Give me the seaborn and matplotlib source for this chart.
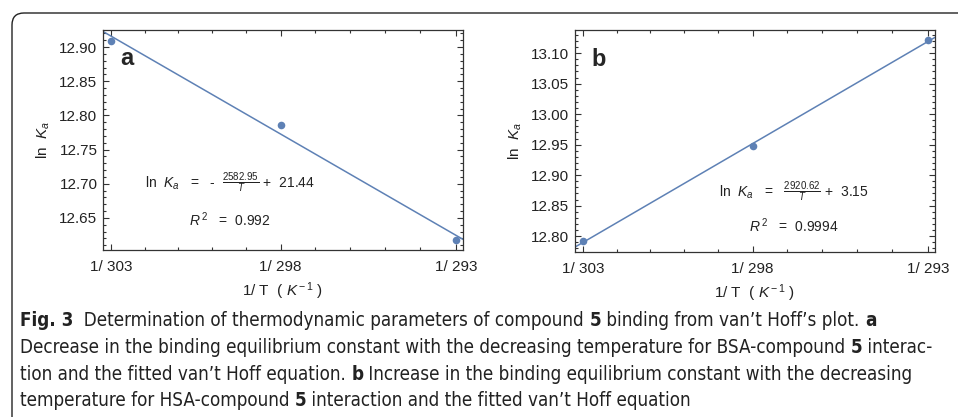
import numpy as np
import matplotlib
matplotlib.use("Agg")
import matplotlib.pyplot as plt
import matplotlib.font_manager as fm
from matplotlib.patches import FancyBboxPatch
from matplotlib.transforms import IdentityTransform
from matplotlib.ticker import FixedLocator, FormatStrFormatter
import seaborn as sns

# data
temps = [303, 298, 293]
lnKa_bsa = [12.909, 12.786, 12.618]
lnKa_hsa = [12.792, 12.948, 13.121]
minor_temps = [302, 301, 300, 299, 297, 296, 295, 294]
tick_labels = ["1/ 303", "1/ 298", "1/ 293"]

eq_bsa = r"ln  $K_a$   =   -  $\frac{2582.95}{T}$ +  21.44"
r2_bsa = r"$R^{\,2}$   =  0.992"
eq_hsa = r"ln  $K_a$   =   $\frac{2920.62}{T}$ +  3.15"
r2_hsa = r"$R^{\,2}$   =  0.9994"

# caption lines as (text, bold) pieces
caption = [
    [("Fig. 3", True), ("  Determination of thermodynamic parameters of compound ", False), ("5", True),
     (" binding from van’t Hoff’s plot. ", False), ("a", True)],
    [("Decrease in the binding equilibrium constant with the decreasing temperature for BSA-compound ", False),
     ("5", True), (" interac-", False)],
    [("tion and the fitted van’t Hoff equation. ", False), ("b", True),
     (" Increase in the binding equilibrium constant with the decreasing", False)],
    [("temperature for HSA-compound ", False), ("5", True), (" interaction and the fitted van’t Hoff equation", False)],
]

sns.set_theme(style="ticks")
plt.rcParams["font.family"] = ["Liberation Sans", "DejaVu Sans"]
plt.rcParams["mathtext.fontset"] = "custom"
plt.rcParams["mathtext.rm"] = "Liberation Sans"
plt.rcParams["mathtext.it"] = "Liberation Sans:italic"
plt.rcParams["mathtext.bf"] = "Liberation Sans:bold"

# look for a narrow / condensed face for the caption
def pick_font(bold):
    best = None
    for f in fm.fontManager.ttflist:
        narrow = ("Narrow" in f.name or "Condensed" in f.name
                  or f.stretch in ("condensed", "semi-condensed"))
        if not narrow or f.style != "normal":
            continue
        w = f.weight if isinstance(f.weight, int) else (700 if "bold" in str(f.weight) else 400)
        if (w >= 600) == bold:
            best = f.fname
            if ("Liberation" in f.name) or ("DejaVu" in f.name):
                break
    if best is None:
        return fm.FontProperties(family="Liberation Sans", weight="bold" if bold else "normal")
    return fm.FontProperties(fname=best)

cap_reg = pick_font(False)
cap_bold = pick_font(True)

blue = "#5E81B5"
frame_col = "#333333"
txt_col = "#222222"

fig = plt.figure(figsize=(9.58, 4.17), dpi=100)
fig.patch.set_facecolor("white")

inv_T = 1.0 / np.array(temps, dtype=float)
xlim = (1 / 303.25, 1 / 292.8)

panels = [
    ([103 / 958, 167 / 417, 360 / 958, 220 / 417], lnKa_bsa, (12.603, 12.925),
     np.arange(12.65, 12.91, 0.05), "a", eq_bsa, r2_bsa, (0.353, 0.306), (0.353, 0.136)),
    ([575 / 958, 165 / 417, 360 / 958, 222 / 417], lnKa_hsa, (12.774, 13.138),
     np.arange(12.80, 13.11, 0.05), "b", eq_hsa, r2_hsa, (0.607, 0.272), (0.607, 0.117)),
]

for rect, vals, ylim, yticks, letter, eq, r2, eq_pos, r2_pos in panels:
    ax = fig.add_axes(rect)
    ax.set_xlim(*xlim)
    ax.set_ylim(*ylim)
    sns.regplot(x=inv_T, y=vals, ax=ax, ci=None, truncate=False, color=blue,
                scatter_kws={"s": 30, "alpha": 1, "linewidths": 0},
                line_kws={"lw": 1.1})
    ax.set_xlim(*xlim)
    ax.set_ylim(*ylim)

    ax.xaxis.set_major_locator(FixedLocator(inv_T))
    ax.set_xticklabels(tick_labels)
    ax.xaxis.set_minor_locator(FixedLocator(1.0 / np.array(minor_temps, dtype=float)))
    ax.yaxis.set_major_locator(FixedLocator(yticks))
    ax.yaxis.set_minor_locator(FixedLocator(np.arange(ylim[0] - 0.01, ylim[1] + 0.01, 0.01).round(2)))
    ax.yaxis.set_major_formatter(FormatStrFormatter("%.2f"))

    ax.tick_params(which="both", direction="in", top=True, right=True,
                   color=frame_col, width=0.8)
    ax.tick_params(which="major", length=4, labelsize=11, labelcolor=txt_col)
    ax.tick_params(which="minor", length=2)
    ax.tick_params(axis="x", which="major", pad=7)
    ax.tick_params(axis="y", which="major", pad=4)
    for sp in ax.spines.values():
        sp.set_color(frame_col)
        sp.set_linewidth(0.9)

    ax.set_xlabel(r"1/ T  ( $K^{\,\mathrm{-\,1}}$ )", fontsize=11, color=txt_col, labelpad=5)
    ax.set_ylabel(r"ln  $K_a$", fontsize=11, color=txt_col, labelpad=5)

    ax.text(0.047, 0.84, letter, transform=ax.transAxes, fontsize=17,
            fontweight="bold", va="baseline", ha="left")
    ax.text(eq_pos[0], eq_pos[1], eq, transform=ax.transAxes, fontsize=10,
            ha="center", va="center", color=txt_col)
    ax.text(r2_pos[0], r2_pos[1], r2, transform=ax.transAxes, fontsize=10,
            ha="center", va="center", color=txt_col)

# caption: pieces placed one after another, size fitted so line 2 spans the width
renderer = fig.canvas.get_renderer()
W = fig.get_figwidth() * fig.dpi

def draw_line(pieces, x0, y, size, draw=True):
    x = x0
    for s, bold in pieces:
        fp = (cap_bold if bold else cap_reg).copy()
        fp.set_size(size)
        t = fig.text(x / W, y, s, fontproperties=fp, ha="left", va="center", color=txt_col)
        x += t.get_window_extent(renderer).width
        if not draw:
            t.remove()
    return x

size = 12.0
end = draw_line(caption[1], 20, 0.5, size, draw=False)
size = min(13.5, size * (947 - 20) / (end - 20))

for i, pieces in enumerate(caption):
    draw_line(pieces, 20, 1 - (321 + 26.5 * i) / 417, size)

# rounded frame around the figure (clipped by the image edge)
frame = FancyBboxPatch((12, -40), 1000, 404 + 40,
                       boxstyle="round,pad=0,rounding_size=12",
                       transform=IdentityTransform(), fill=False,
                       edgecolor=txt_col, lw=1.0)
fig.patches.append(frame)

fig.savefig("out.png", dpi=100)
